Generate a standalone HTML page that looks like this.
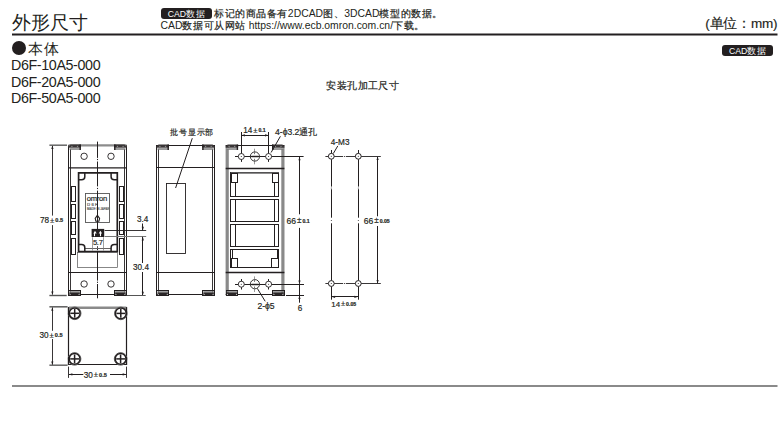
<!DOCTYPE html>
<html><head><meta charset="utf-8">
<style>
html,body{margin:0;padding:0;background:#fff;width:784px;height:422px;overflow:hidden;position:relative}
.t{position:absolute;font-family:"Liberation Sans",sans-serif;color:#231f20;white-space:nowrap;line-height:1}
.c{letter-spacing:0.55px;-webkit-text-stroke:0.2px #231f20}
svg{position:absolute;left:0;top:0;font-family:"Liberation Sans",sans-serif}
</style></head><body>
<div class="t" style="left:11.5px;top:13px;font-size:19px">外形尺寸</div>
<div class="t" style="left:161px;top:8.1px;width:51px;height:10.7px;background:#231f20;border-radius:3px"></div>
<div class="t" style="left:167.8px;top:8.7px;font-size:8.7px;color:#fff">CAD<span style="font-size:9.4px;letter-spacing:0.4px">数据</span></div>
<div class="t" style="left:214px;top:9.0px;font-size:10.4px"><span class="c">标记的商品备有</span>2DCAD<span class="c">图、</span>3DCAD<span class="c">模型的数据。</span></div>
<div class="t" style="left:160.5px;top:20.9px;font-size:10.4px">CAD<span class="c">数据可从网站</span> https://www.ecb.omron.com.cn/<span class="c">下载。</span></div>
<div class="t" style="left:705.3px;top:17px;font-size:13.5px;letter-spacing:-0.2px;-webkit-text-stroke:0.15px #231f20">(单位：mm)</div>
<div class="t" style="left:722px;top:45.3px;width:50.8px;height:10.8px;background:#231f20;border-radius:3px"></div>
<div class="t" style="left:729px;top:45.9px;font-size:8.7px;color:#fff">CAD<span style="font-size:9.4px;letter-spacing:0.4px">数据</span></div>
<div class="t" style="left:11.8px;top:41.2px;width:13.8px;height:13.8px;border-radius:50%;background:#231f20"></div>
<div class="t" style="left:27.8px;top:40.8px;font-size:15px;letter-spacing:1.2px">本体</div>
<div class="t" style="left:11px;top:58.2px;font-size:14.3px;letter-spacing:-0.38px">D6F-10A5-000</div>
<div class="t" style="left:11px;top:74.8px;font-size:14.3px;letter-spacing:-0.38px">D6F-20A5-000</div>
<div class="t" style="left:11px;top:91.1px;font-size:14.3px;letter-spacing:-0.38px">D6F-50A5-000</div>
<div class="t" style="left:326.2px;top:81.2px;font-size:10.4px;letter-spacing:0.45px;-webkit-text-stroke:0.2px #231f20">安装孔加工尺寸</div>
<svg width="784" height="422" viewBox="0 0 784 422">
<line x1="12" y1="34.5" x2="777.5" y2="34.5" stroke="#231f20" stroke-width="2"/>
<line x1="12" y1="386" x2="777.5" y2="386" stroke="#8a8a8a" stroke-width="2"/>
<line x1="68.5" y1="145" x2="68.5" y2="295.3" stroke="#231f20" stroke-width="1.0" />
<line x1="70.5" y1="149" x2="70.5" y2="292.3" stroke="#231f20" stroke-width="0.9" />
<line x1="126.5" y1="145" x2="126.5" y2="295.3" stroke="#231f20" stroke-width="1.0" />
<line x1="124.5" y1="149" x2="124.5" y2="292.3" stroke="#231f20" stroke-width="0.9" />
<line x1="68.5" y1="145.3" x2="126.5" y2="145.3" stroke="#8c8c8c" stroke-width="2.2" />
<line x1="68.5" y1="294.5" x2="126.5" y2="294.5" stroke="#231f20" stroke-width="1.2" />
<polygon points="68.50,146.60 70.50,144.60 80.90,144.60 80.90,147.80 68.50,147.80" fill="#3a3637"/>
<circle cx="71.90" cy="146.40" r="0.7" fill="#8a8a8a"/>
<circle cx="77.50" cy="146.40" r="0.7" fill="#8a8a8a"/>
<rect x="69.50" y="147.90" width="11.20" height="1.3" fill="#a0a0a0"/>
<rect x="69.50" y="149.20" width="11.40" height="0.7" fill="#777"/>
<line x1="80.20" y1="144.60" x2="80.20" y2="149.90" stroke="#231f20" stroke-width="1.4"/>
<polygon points="126.50,146.60 124.50,144.60 114.10,144.60 114.10,147.80 126.50,147.80" fill="#3a3637"/>
<circle cx="123.10" cy="146.40" r="0.7" fill="#8a8a8a"/>
<circle cx="117.50" cy="146.40" r="0.7" fill="#8a8a8a"/>
<rect x="114.30" y="147.90" width="11.20" height="1.3" fill="#a0a0a0"/>
<rect x="114.10" y="149.20" width="11.40" height="0.7" fill="#777"/>
<line x1="114.80" y1="144.60" x2="114.80" y2="149.90" stroke="#231f20" stroke-width="1.4"/>
<rect x="68.5" y="290.5" width="12.0" height="5.0" stroke="#231f20" stroke-width="1.0" fill="none" rx="0"/>
<rect x="69.3" y="291.2" width="10.6" height="1.2" fill="#888"/>
<rect x="69.3" y="292.40000000000003" width="10.6" height="2.8000000000000003" fill="#2a2627"/>
<circle cx="70.1" cy="294.3" r="0.6" stroke="#231f20" stroke-width="0" fill="#ddd"/>
<circle cx="79.1" cy="294.3" r="0.6" stroke="#231f20" stroke-width="0" fill="#ddd"/>
<rect x="114.5" y="290.5" width="12.0" height="5.0" stroke="#231f20" stroke-width="1.0" fill="none" rx="0"/>
<rect x="115.1" y="291.2" width="10.6" height="1.2" fill="#888"/>
<rect x="115.1" y="292.40000000000003" width="10.6" height="2.8000000000000003" fill="#2a2627"/>
<circle cx="115.89999999999999" cy="294.3" r="0.6" stroke="#231f20" stroke-width="0" fill="#ddd"/>
<circle cx="124.89999999999999" cy="294.3" r="0.6" stroke="#231f20" stroke-width="0" fill="#ddd"/>
<circle cx="84.1" cy="156.3" r="3.2" stroke="#231f20" stroke-width="0.9" fill="none"/>
<circle cx="111" cy="156.3" r="3.2" stroke="#231f20" stroke-width="0.9" fill="none"/>
<circle cx="84.1" cy="284" r="3.2" stroke="#231f20" stroke-width="0.9" fill="none"/>
<circle cx="111" cy="284" r="3.2" stroke="#231f20" stroke-width="0.9" fill="none"/>
<line x1="68.5" y1="167.9" x2="126.5" y2="167.9" stroke="#231f20" stroke-width="1.4" />
<line x1="68.5" y1="272.5" x2="126.5" y2="272.5" stroke="#231f20" stroke-width="1.1" />
<path d="M78.6,172.8 H117.3 V251.6 H78.6 Z" stroke="#231f20" stroke-width="1.7" fill="none"/>
<path d="M78.6,179.8 H81.6 Q84.8,179.8 84.8,176.8 V172.8" stroke="#231f20" stroke-width="1.5" fill="none"/>
<path d="M117.3,179.8 H114.3 Q111.1,179.8 111.1,176.8 V172.8" stroke="#231f20" stroke-width="1.5" fill="none"/>
<path d="M78.6,244.6 H81.6 Q84.8,244.6 84.8,247.6 V251.6" stroke="#231f20" stroke-width="1.5" fill="none"/>
<path d="M117.3,244.6 H114.3 Q111.1,244.6 111.1,247.6 V251.6" stroke="#231f20" stroke-width="1.5" fill="none"/>
<line x1="84.8" y1="248.5" x2="111.1" y2="248.5" stroke="#231f20" stroke-width="0.7" />
<rect x="77.5" y="252.5" width="40.0" height="15.0" stroke="#555" stroke-width="0.7" fill="none" rx="0"/>
<rect x="71.5" y="186.5" width="4.0" height="15.0" stroke="#231f20" stroke-width="1.0" fill="none" rx="0"/>
<rect x="71.5" y="204.5" width="4.0" height="14.0" stroke="#231f20" stroke-width="1.0" fill="none" rx="0"/>
<rect x="71.5" y="221.5" width="4.0" height="13.0" stroke="#231f20" stroke-width="1.0" fill="none" rx="0"/>
<rect x="71.5" y="238.5" width="4.0" height="16.0" stroke="#231f20" stroke-width="1.0" fill="none" rx="0"/>
<rect x="119.5" y="186.5" width="4.0" height="15.0" stroke="#231f20" stroke-width="1.0" fill="none" rx="0"/>
<rect x="119.5" y="204.5" width="4.0" height="14.0" stroke="#231f20" stroke-width="1.0" fill="none" rx="0"/>
<rect x="119.5" y="221.5" width="4.0" height="13.0" stroke="#231f20" stroke-width="1.0" fill="none" rx="0"/>
<rect x="119.5" y="238.5" width="4.0" height="16.0" stroke="#231f20" stroke-width="1.0" fill="none" rx="0"/>
<rect x="85.5" y="193.5" width="24.0" height="29.0" stroke="#555" stroke-width="0.9" fill="none" rx="0"/>
<text x="86.8" y="201.2" font-size="7.6" text-anchor="start" fill="#231f20" stroke="#231f20" stroke-width="0.18" letter-spacing="-0.25">omron</text>
<text x="87.0" y="205.8" font-size="4.4" text-anchor="start" fill="#555" stroke="#555" stroke-width="0.18" >D 6 F</text>
<text x="87.0" y="209.5" font-size="3.0" text-anchor="start" fill="#666" stroke="#666" stroke-width="0.18" >MADE IN JAPAN</text>
<path d="M97.4,215.3 L99.6,218.3 L98.9,221.3 L95.9,221.3 L95.2,218.3 Z" stroke="#231f20" stroke-width="1.1" fill="#fff"/>
<line x1="97.5" y1="217.5" x2="97.5" y2="221.3" stroke="#231f20" stroke-width="1.0" />
<rect x="91.6" y="228.9" width="12.6" height="8.1" stroke="#231f20" stroke-width="0" fill="#231f20" rx="0"/>
<path d="M93.3,233.6 L95.0,230.8 L96.7,233.6 Z" stroke="none" stroke-width="0" fill="#fff"/>
<path d="M98.7,233.6 L100.4,230.8 L102.1,233.6 Z" stroke="none" stroke-width="0" fill="#fff"/>
<line x1="94.5" y1="233" x2="94.5" y2="236.2" stroke="#fff" stroke-width="1.1" />
<line x1="100.5" y1="233" x2="100.5" y2="236.2" stroke="#fff" stroke-width="1.1" />
<line x1="92.5" y1="237.2" x2="92.5" y2="250.5" stroke="#777" stroke-width="0.7" />
<line x1="103.5" y1="237.2" x2="103.5" y2="250.5" stroke="#777" stroke-width="0.7" />
<text x="93.0" y="244.8" font-size="7.6" text-anchor="start" fill="#231f20" stroke="#231f20" stroke-width="0.18" letter-spacing="-0.35">5.7</text>
<line x1="104.6" y1="230.5" x2="146.2" y2="230.5" stroke="#231f20" stroke-width="0.9" />
<line x1="104.6" y1="236.5" x2="146.2" y2="236.5" stroke="#777" stroke-width="1.0" />
<line x1="97.5" y1="141.6" x2="97.5" y2="157.9" stroke="#231f20" stroke-width="1.0" />
<line x1="97.5" y1="161.5" x2="97.5" y2="186.4" stroke="#231f20" stroke-width="1.0" />
<line x1="97.5" y1="190.6" x2="97.5" y2="229.2" stroke="#231f20" stroke-width="1.0" />
<line x1="97.5" y1="246.3" x2="97.5" y2="247.8" stroke="#231f20" stroke-width="1.0" />
<line x1="97.5" y1="251.5" x2="97.5" y2="280.6" stroke="#231f20" stroke-width="1.0" />
<line x1="97.5" y1="284.0" x2="97.5" y2="298.3" stroke="#231f20" stroke-width="1.0" />
<line x1="97.5" y1="158.9" x2="97.5" y2="160.1" stroke="#231f20" stroke-width="1.0" />
<line x1="97.5" y1="187.9" x2="97.5" y2="189.1" stroke="#231f20" stroke-width="1.0" />
<line x1="97.5" y1="249.0" x2="97.5" y2="250.2" stroke="#231f20" stroke-width="1.0" />
<line x1="97.5" y1="281.7" x2="97.5" y2="282.90000000000003" stroke="#231f20" stroke-width="1.0" />
<line x1="49.4" y1="145.2" x2="67" y2="145.2" stroke="#666" stroke-width="1.5" />
<line x1="49.4" y1="295.5" x2="66.7" y2="295.5" stroke="#555" stroke-width="1.4" />
<line x1="52.5" y1="146" x2="52.5" y2="215.6" stroke="#231f20" stroke-width="0.9" />
<line x1="52.5" y1="225.1" x2="52.5" y2="294.5" stroke="#231f20" stroke-width="0.9" />
<polygon points="52.4,145.3 51.3,148.9 53.5,148.9" fill="#231f20"/>
<polygon points="52.4,295 51.3,291.4 53.5,291.4" fill="#231f20"/>
<text x="40.0" y="222.9" font-size="8.2" fill="#231f20" stroke="#231f20" stroke-width="0.18">78<tspan font-size="7.789999999999999" dx="0.9" dy="-0.4">±</tspan><tspan font-size="5.6" dx="0.9" letter-spacing="0.1" dy="-0.5" font-weight="bold">0.5</tspan></text>
<line x1="142.5" y1="223.5" x2="142.5" y2="230.4" stroke="#231f20" stroke-width="1.0" />
<polygon points="142.8,230.4 141.70000000000002,226.8 143.9,226.8" fill="#231f20"/>
<line x1="142.5" y1="236.8" x2="142.5" y2="263" stroke="#231f20" stroke-width="1.0" />
<line x1="142.5" y1="272" x2="142.5" y2="295.3" stroke="#231f20" stroke-width="1.0" />
<polygon points="142.8,236.8 141.70000000000002,240.4 143.9,240.4" fill="#231f20"/>
<polygon points="142.8,295.3 141.70000000000002,291.7 143.9,291.7" fill="#231f20"/>
<line x1="126.6" y1="295.5" x2="145.7" y2="295.5" stroke="#555" stroke-width="1.0" />
<text x="137.0" y="222.2" font-size="8.2" text-anchor="start" fill="#231f20" stroke="#231f20" stroke-width="0.18" >3.4</text>
<text x="133.0" y="270.1" font-size="8.2" text-anchor="start" fill="#231f20" stroke="#231f20" stroke-width="0.18" >30.4</text>
<line x1="156.5" y1="145" x2="156.5" y2="295.3" stroke="#231f20" stroke-width="1.0" />
<line x1="158.5" y1="149" x2="158.5" y2="292.3" stroke="#231f20" stroke-width="0.9" />
<line x1="214.5" y1="145" x2="214.5" y2="295.3" stroke="#231f20" stroke-width="1.0" />
<line x1="212.5" y1="149" x2="212.5" y2="292.3" stroke="#231f20" stroke-width="0.9" />
<line x1="156.5" y1="145.5" x2="214.6" y2="145.5" stroke="#231f20" stroke-width="1.0" />
<line x1="156.5" y1="294.5" x2="214.6" y2="294.5" stroke="#231f20" stroke-width="1.2" />
<polygon points="156.50,146.60 158.50,144.60 168.90,144.60 168.90,147.80 156.50,147.80" fill="#3a3637"/>
<circle cx="159.90" cy="146.40" r="0.7" fill="#8a8a8a"/>
<circle cx="165.50" cy="146.40" r="0.7" fill="#8a8a8a"/>
<rect x="157.50" y="147.90" width="11.20" height="1.3" fill="#a0a0a0"/>
<rect x="157.50" y="149.20" width="11.40" height="0.7" fill="#777"/>
<line x1="168.20" y1="144.60" x2="168.20" y2="149.90" stroke="#231f20" stroke-width="1.4"/>
<polygon points="214.60,146.60 212.60,144.60 202.20,144.60 202.20,147.80 214.60,147.80" fill="#3a3637"/>
<circle cx="211.20" cy="146.40" r="0.7" fill="#8a8a8a"/>
<circle cx="205.60" cy="146.40" r="0.7" fill="#8a8a8a"/>
<rect x="202.40" y="147.90" width="11.20" height="1.3" fill="#a0a0a0"/>
<rect x="202.20" y="149.20" width="11.40" height="0.7" fill="#777"/>
<line x1="202.90" y1="144.60" x2="202.90" y2="149.90" stroke="#231f20" stroke-width="1.4"/>
<rect x="156.5" y="290.5" width="12.0" height="5.0" stroke="#231f20" stroke-width="1.0" fill="none" rx="0"/>
<rect x="157.5" y="291.2" width="10.6" height="1.2" fill="#888"/>
<rect x="157.5" y="292.40000000000003" width="10.6" height="2.8000000000000003" fill="#2a2627"/>
<circle cx="158.3" cy="294.3" r="0.6" stroke="#231f20" stroke-width="0" fill="#ddd"/>
<circle cx="167.29999999999998" cy="294.3" r="0.6" stroke="#231f20" stroke-width="0" fill="#ddd"/>
<rect x="202.5" y="290.5" width="12.0" height="5.0" stroke="#231f20" stroke-width="1.0" fill="none" rx="0"/>
<rect x="203.29999999999998" y="291.2" width="10.6" height="1.2" fill="#888"/>
<rect x="203.29999999999998" y="292.40000000000003" width="10.6" height="2.8000000000000003" fill="#2a2627"/>
<circle cx="204.1" cy="294.3" r="0.6" stroke="#231f20" stroke-width="0" fill="#ddd"/>
<circle cx="213.09999999999997" cy="294.3" r="0.6" stroke="#231f20" stroke-width="0" fill="#ddd"/>
<line x1="156.5" y1="167.5" x2="214.6" y2="167.5" stroke="#231f20" stroke-width="1.1" />
<line x1="156.5" y1="272.5" x2="214.6" y2="272.5" stroke="#231f20" stroke-width="1.1" />
<rect x="166.5" y="183.5" width="19.0" height="70.0" stroke="#231f20" stroke-width="0.9" fill="none" rx="0"/>
<line x1="192.3" y1="138.2" x2="175.6" y2="188.0" stroke="#231f20" stroke-width="1.0" />
<text x="170.3" y="135.1" font-size="8.4" text-anchor="start" fill="#231f20" stroke="#231f20" stroke-width="0.18" letter-spacing="0.8" font-weight="500">批号显示部</text>
<line x1="227.2" y1="145" x2="227.2" y2="295.3" stroke="#8a8a8a" stroke-width="3.2" />
<line x1="282.9" y1="145" x2="282.9" y2="295.3" stroke="#8a8a8a" stroke-width="3.2" />
<line x1="225.7" y1="145.5" x2="284.4" y2="145.5" stroke="#231f20" stroke-width="1.0" />
<line x1="225.7" y1="294.5" x2="284.4" y2="294.5" stroke="#231f20" stroke-width="1.2" />
<polygon points="225.70,146.60 227.70,144.60 238.10,144.60 238.10,147.80 225.70,147.80" fill="#3a3637"/>
<circle cx="229.10" cy="146.40" r="0.7" fill="#8a8a8a"/>
<circle cx="234.70" cy="146.40" r="0.7" fill="#8a8a8a"/>
<rect x="226.70" y="147.90" width="11.20" height="1.3" fill="#a0a0a0"/>
<rect x="226.70" y="149.20" width="11.40" height="0.7" fill="#777"/>
<line x1="237.40" y1="144.60" x2="237.40" y2="149.90" stroke="#231f20" stroke-width="1.4"/>
<polygon points="284.40,146.60 282.40,144.60 272.00,144.60 272.00,147.80 284.40,147.80" fill="#3a3637"/>
<circle cx="281.00" cy="146.40" r="0.7" fill="#8a8a8a"/>
<circle cx="275.40" cy="146.40" r="0.7" fill="#8a8a8a"/>
<rect x="272.20" y="147.90" width="11.20" height="1.3" fill="#a0a0a0"/>
<rect x="272.00" y="149.20" width="11.40" height="0.7" fill="#777"/>
<line x1="272.70" y1="144.60" x2="272.70" y2="149.90" stroke="#231f20" stroke-width="1.4"/>
<rect x="226.5" y="290.5" width="11.0" height="5.0" stroke="#231f20" stroke-width="1.0" fill="none" rx="0"/>
<rect x="226.7" y="291.2" width="10.6" height="1.2" fill="#888"/>
<rect x="226.7" y="292.40000000000003" width="10.6" height="2.8000000000000003" fill="#2a2627"/>
<circle cx="227.5" cy="294.3" r="0.6" stroke="#231f20" stroke-width="0" fill="#ddd"/>
<circle cx="236.49999999999997" cy="294.3" r="0.6" stroke="#231f20" stroke-width="0" fill="#ddd"/>
<rect x="272.5" y="290.5" width="12.0" height="5.0" stroke="#231f20" stroke-width="1.0" fill="none" rx="0"/>
<rect x="273.09999999999997" y="291.2" width="10.6" height="1.2" fill="#888"/>
<rect x="273.09999999999997" y="292.40000000000003" width="10.6" height="2.8000000000000003" fill="#2a2627"/>
<circle cx="273.9" cy="294.3" r="0.6" stroke="#231f20" stroke-width="0" fill="#ddd"/>
<circle cx="282.9" cy="294.3" r="0.6" stroke="#231f20" stroke-width="0" fill="#ddd"/>
<line x1="225.7" y1="168.5" x2="284.4" y2="168.5" stroke="#231f20" stroke-width="1.3" />
<line x1="225.7" y1="272.5" x2="284.4" y2="272.5" stroke="#231f20" stroke-width="1.3" />
<line x1="235" y1="156.5" x2="303.6" y2="156.5" stroke="#231f20" stroke-width="1.0" stroke-dasharray="60 0"/>
<line x1="235" y1="284.5" x2="304" y2="284.5" stroke="#231f20" stroke-width="1.0" stroke-dasharray="60 0"/>
<line x1="241.5" y1="132" x2="241.5" y2="161.9" stroke="#231f20" stroke-width="1.0" />
<line x1="268.5" y1="132" x2="268.5" y2="161.9" stroke="#231f20" stroke-width="1.0" />
<line x1="241.5" y1="279" x2="241.5" y2="289.5" stroke="#231f20" stroke-width="1.0" />
<line x1="268.5" y1="279" x2="268.5" y2="289.5" stroke="#231f20" stroke-width="1.0" />
<circle cx="241.3" cy="156.5" r="3.0" stroke="#231f20" stroke-width="0.9" fill="#fff"/>
<circle cx="241.3" cy="156.5" r="0.55" stroke="#231f20" stroke-width="0" fill="#231f20"/>
<circle cx="268.6" cy="156.5" r="3.0" stroke="#231f20" stroke-width="0.9" fill="#fff"/>
<circle cx="268.6" cy="156.5" r="0.55" stroke="#231f20" stroke-width="0" fill="#231f20"/>
<line x1="254.5" y1="148.7" x2="254.5" y2="164.3" stroke="#999" stroke-width="1.0" />
<circle cx="254.9" cy="156.5" r="4.6" stroke="#231f20" stroke-width="0.9" fill="#fff"/>
<line x1="250.3" y1="156.5" x2="259.5" y2="156.5" stroke="#231f20" stroke-width="1.0" />
<line x1="251.5" y1="155.5" x2="258.3" y2="155.5" stroke="#999" stroke-width="0.5" />
<line x1="251.5" y1="157.5" x2="258.3" y2="157.5" stroke="#999" stroke-width="0.5" />
<line x1="254.5" y1="151.9" x2="254.5" y2="154.2" stroke="#777" stroke-width="1.0" />
<line x1="254.5" y1="158.8" x2="254.5" y2="161.1" stroke="#777" stroke-width="1.0" />
<circle cx="241.3" cy="284.2" r="3.0" stroke="#231f20" stroke-width="0.9" fill="#fff"/>
<circle cx="241.3" cy="284.2" r="0.55" stroke="#231f20" stroke-width="0" fill="#231f20"/>
<circle cx="268.6" cy="284.2" r="3.0" stroke="#231f20" stroke-width="0.9" fill="#fff"/>
<circle cx="268.6" cy="284.2" r="0.55" stroke="#231f20" stroke-width="0" fill="#231f20"/>
<line x1="254.5" y1="276.4" x2="254.5" y2="292.0" stroke="#999" stroke-width="1.0" />
<circle cx="254.9" cy="284.2" r="4.6" stroke="#231f20" stroke-width="0.9" fill="#fff"/>
<line x1="250.3" y1="284.5" x2="259.5" y2="284.5" stroke="#231f20" stroke-width="1.0" />
<line x1="251.5" y1="283.5" x2="258.3" y2="283.5" stroke="#999" stroke-width="0.5" />
<line x1="251.5" y1="285.5" x2="258.3" y2="285.5" stroke="#999" stroke-width="0.5" />
<line x1="254.5" y1="279.59999999999997" x2="254.5" y2="281.9" stroke="#777" stroke-width="1.0" />
<line x1="254.5" y1="286.5" x2="254.5" y2="288.8" stroke="#777" stroke-width="1.0" />
<rect x="230.5" y="172.5" width="48.0" height="24.0" stroke="#231f20" stroke-width="1.0" fill="none" rx="0"/>
<line x1="230.8" y1="173.0" x2="279.0" y2="173.0" stroke="#666" stroke-width="1.6" />
<rect x="231.5" y="173.5" width="6.0" height="9.0" stroke="#231f20" stroke-width="1.0" fill="none" rx="0"/>
<rect x="272.5" y="173.5" width="6.0" height="9.0" stroke="#231f20" stroke-width="1.0" fill="none" rx="0"/>
<line x1="235.5" y1="182.4" x2="235.5" y2="196.2" stroke="#231f20" stroke-width="1.0" />
<line x1="274.5" y1="182.4" x2="274.5" y2="196.2" stroke="#231f20" stroke-width="1.0" />
<rect x="230.5" y="199.5" width="48.0" height="22.0" stroke="#231f20" stroke-width="1.0" fill="none" rx="0"/>
<line x1="235.5" y1="199.5" x2="235.5" y2="221.3" stroke="#231f20" stroke-width="1.0" />
<line x1="274.5" y1="199.5" x2="274.5" y2="221.3" stroke="#231f20" stroke-width="1.0" />
<rect x="230.5" y="224.5" width="48.0" height="22.0" stroke="#231f20" stroke-width="1.0" fill="none" rx="0"/>
<line x1="235.5" y1="224.5" x2="235.5" y2="246.3" stroke="#231f20" stroke-width="1.0" />
<line x1="274.5" y1="224.5" x2="274.5" y2="246.3" stroke="#231f20" stroke-width="1.0" />
<rect x="230.5" y="249.5" width="48.0" height="18.0" stroke="#231f20" stroke-width="1.0" fill="none" rx="0"/>
<rect x="231.5" y="258.5" width="6.0" height="9.0" stroke="#231f20" stroke-width="1.0" fill="none" rx="0"/>
<rect x="271.5" y="258.5" width="7.0" height="9.0" stroke="#231f20" stroke-width="1.0" fill="none" rx="0"/>
<line x1="232.5" y1="249.4" x2="232.5" y2="258.0" stroke="#231f20" stroke-width="1.0" />
<line x1="277.5" y1="249.4" x2="277.5" y2="258.0" stroke="#231f20" stroke-width="1.0" />
<line x1="241.3" y1="135.5" x2="268.6" y2="135.5" stroke="#231f20" stroke-width="1.0" />
<polygon points="241.3,135.3 244.9,134.20000000000002 244.9,136.4" fill="#231f20"/>
<polygon points="268.6,135.3 265.0,134.20000000000002 265.0,136.4" fill="#231f20"/>
<text x="243.2" y="132.9" font-size="8.2" fill="#231f20" stroke="#231f20" stroke-width="0.18">14<tspan font-size="7.789999999999999" dx="0.9" dy="-0.4">±</tspan><tspan font-size="5.2" dx="0.9" letter-spacing="0" dy="-0.5" font-weight="bold">0.1</tspan></text>
<text x="275.0" y="135.2" font-size="8.6" text-anchor="start" fill="#231f20" stroke="#231f20" stroke-width="0.18" >4-ϕ3.2通孔</text>
<line x1="280.4" y1="136.3" x2="271.1" y2="152.5" stroke="#231f20" stroke-width="1.0" />
<line x1="299.5" y1="157" x2="299.5" y2="214.3" stroke="#231f20" stroke-width="1.0" />
<line x1="299.5" y1="227.9" x2="299.5" y2="283.8" stroke="#231f20" stroke-width="1.0" />
<polygon points="299.5,156.7 298.4,160.29999999999998 300.6,160.29999999999998" fill="#231f20"/>
<polygon points="299.5,284.2 298.4,280.59999999999997 300.6,280.59999999999997" fill="#231f20"/>
<text x="286.6" y="223.8" font-size="8.6" fill="#231f20" stroke="#231f20" stroke-width="0.18">66<tspan font-size="8.17" dx="0.9" dy="-0.4">±</tspan><tspan font-size="5.2" dx="0.9" letter-spacing="0" dy="-0.5" font-weight="bold">0.1</tspan></text>
<line x1="286" y1="295.5" x2="304" y2="295.5" stroke="#231f20" stroke-width="1.0" />
<line x1="299.5" y1="284.2" x2="299.5" y2="302.7" stroke="#231f20" stroke-width="1.0" />
<polygon points="299.5,295.5 298.4,299.1 300.6,299.1" fill="#231f20"/>
<text x="297.8" y="311.3" font-size="8.2" text-anchor="start" fill="#231f20" stroke="#231f20" stroke-width="0.18" >6</text>
<text x="257.4" y="309.2" font-size="8.6" text-anchor="start" fill="#231f20" stroke="#231f20" stroke-width="0.18" >2-ϕ5</text>
<line x1="257.3" y1="288.4" x2="265.2" y2="301.3" stroke="#231f20" stroke-width="1.0" />
<line x1="325.4" y1="156.5" x2="380.8" y2="156.5" stroke="#231f20" stroke-width="0.9" stroke-dasharray="17.6 0.9 1.0 0.9 100"/>
<circle cx="331.3" cy="156.3" r="2.9" stroke="#231f20" stroke-width="1.0" fill="#fff"/>
<circle cx="331.3" cy="156.3" r="0.55" stroke="#231f20" stroke-width="0" fill="#231f20"/>
<circle cx="358.3" cy="156.3" r="2.9" stroke="#231f20" stroke-width="1.0" fill="#fff"/>
<circle cx="358.3" cy="156.3" r="0.55" stroke="#231f20" stroke-width="0" fill="#231f20"/>
<line x1="325.4" y1="283.5" x2="380.8" y2="283.5" stroke="#231f20" stroke-width="0.9" stroke-dasharray="17.6 0.9 1.0 0.9 100"/>
<circle cx="331.3" cy="283.5" r="2.9" stroke="#231f20" stroke-width="1.0" fill="#fff"/>
<circle cx="331.3" cy="283.5" r="0.55" stroke="#231f20" stroke-width="0" fill="#231f20"/>
<circle cx="358.3" cy="283.5" r="2.9" stroke="#231f20" stroke-width="1.0" fill="#fff"/>
<circle cx="358.3" cy="283.5" r="0.55" stroke="#231f20" stroke-width="0" fill="#231f20"/>
<line x1="331.5" y1="150" x2="331.5" y2="153.3" stroke="#231f20" stroke-width="1.0" />
<line x1="331.5" y1="159.3" x2="331.5" y2="186.6" stroke="#231f20" stroke-width="1.0" />
<circle cx="331.3" cy="187.9" r="0.5" stroke="#231f20" stroke-width="0" fill="#231f20"/>
<line x1="331.5" y1="189.2" x2="331.5" y2="217.7" stroke="#231f20" stroke-width="1.0" />
<circle cx="331.3" cy="220.5" r="0.5" stroke="#231f20" stroke-width="0" fill="#231f20"/>
<line x1="331.5" y1="223.3" x2="331.5" y2="280.5" stroke="#231f20" stroke-width="1.0" />
<line x1="331.5" y1="286.5" x2="331.5" y2="299.7" stroke="#231f20" stroke-width="1.0" />
<line x1="358.5" y1="150" x2="358.5" y2="153.3" stroke="#231f20" stroke-width="1.0" />
<line x1="358.5" y1="159.3" x2="358.5" y2="186.6" stroke="#231f20" stroke-width="1.0" />
<circle cx="358.3" cy="187.9" r="0.5" stroke="#231f20" stroke-width="0" fill="#231f20"/>
<line x1="358.5" y1="189.2" x2="358.5" y2="217.7" stroke="#231f20" stroke-width="1.0" />
<circle cx="358.3" cy="220.5" r="0.5" stroke="#231f20" stroke-width="0" fill="#231f20"/>
<line x1="358.5" y1="223.3" x2="358.5" y2="280.5" stroke="#231f20" stroke-width="1.0" />
<line x1="358.5" y1="286.5" x2="358.5" y2="299.7" stroke="#231f20" stroke-width="1.0" />
<line x1="377.5" y1="157" x2="377.5" y2="216.3" stroke="#231f20" stroke-width="1.0" />
<line x1="377.5" y1="226" x2="377.5" y2="283.2" stroke="#231f20" stroke-width="1.0" />
<polygon points="377.6,156.5 376.5,160.1 378.70000000000005,160.1" fill="#231f20"/>
<polygon points="377.6,283.5 376.5,279.9 378.70000000000005,279.9" fill="#231f20"/>
<text x="363.8" y="223.6" font-size="8.6" fill="#231f20" stroke="#231f20" stroke-width="0.18">66<tspan font-size="8.17" dx="0.9" dy="-0.4">±</tspan><tspan font-size="5.2" dx="0.9" letter-spacing="0" dy="-0.5" font-weight="bold">0.05</tspan></text>
<line x1="331.3" y1="296.5" x2="358.2" y2="296.5" stroke="#231f20" stroke-width="1.0" />
<polygon points="331.5,296.8 335.1,295.7 335.1,297.90000000000003" fill="#231f20"/>
<polygon points="358.0,296.8 354.4,295.7 354.4,297.90000000000003" fill="#231f20"/>
<text x="331.2" y="306.8" font-size="8.0" fill="#231f20" stroke="#231f20" stroke-width="0.18">14<tspan font-size="7.6" dx="0.9" dy="-0.4">±</tspan><tspan font-size="5.2" dx="0.9" letter-spacing="0" dy="-0.5" font-weight="bold">0.05</tspan></text>
<text x="330.8" y="145.4" font-size="8.2" text-anchor="start" fill="#231f20" stroke="#231f20" stroke-width="0.18" >4-M3</text>
<line x1="337.8" y1="145.9" x2="333.3" y2="153.5" stroke="#231f20" stroke-width="1.0" />
<line x1="68.5" y1="307.2" x2="68.5" y2="365" stroke="#231f20" stroke-width="1.2" />
<line x1="126.5" y1="307.2" x2="126.5" y2="365" stroke="#231f20" stroke-width="1.2" />
<line x1="68.8" y1="307.8" x2="126.4" y2="307.8" stroke="#8a8a8a" stroke-width="2.6" />
<line x1="68.8" y1="364.5" x2="126.4" y2="364.5" stroke="#231f20" stroke-width="1.2" />
<circle cx="74.7" cy="313.3" r="6.3" stroke="#555" stroke-width="0.9" fill="#fff"/>
<circle cx="74.7" cy="313.3" r="5.4" stroke="#231f20" stroke-width="1.5" fill="#fff"/>
<line x1="70.3" y1="313.3" x2="79.10000000000001" y2="313.3" stroke="#231f20" stroke-width="1.5" />
<line x1="74.7" y1="308.90000000000003" x2="74.7" y2="317.7" stroke="#231f20" stroke-width="1.5" />
<circle cx="120.8" cy="313.4" r="6.3" stroke="#555" stroke-width="0.9" fill="#fff"/>
<circle cx="120.8" cy="313.4" r="5.4" stroke="#231f20" stroke-width="1.5" fill="#fff"/>
<line x1="116.39999999999999" y1="313.4" x2="125.2" y2="313.4" stroke="#231f20" stroke-width="1.5" />
<line x1="120.8" y1="309.0" x2="120.8" y2="317.79999999999995" stroke="#231f20" stroke-width="1.5" />
<circle cx="74.6" cy="358.9" r="6.3" stroke="#555" stroke-width="0.9" fill="#fff"/>
<circle cx="74.6" cy="358.9" r="5.4" stroke="#231f20" stroke-width="1.5" fill="#fff"/>
<line x1="70.19999999999999" y1="358.9" x2="79.0" y2="358.9" stroke="#231f20" stroke-width="1.5" />
<line x1="74.6" y1="354.5" x2="74.6" y2="363.29999999999995" stroke="#231f20" stroke-width="1.5" />
<circle cx="120.6" cy="358.9" r="6.3" stroke="#555" stroke-width="0.9" fill="#fff"/>
<circle cx="120.6" cy="358.9" r="5.4" stroke="#231f20" stroke-width="1.5" fill="#fff"/>
<line x1="116.19999999999999" y1="358.9" x2="125.0" y2="358.9" stroke="#231f20" stroke-width="1.5" />
<line x1="120.6" y1="354.5" x2="120.6" y2="363.29999999999995" stroke="#231f20" stroke-width="1.5" />
<line x1="68.5" y1="307.2" x2="68.5" y2="315.2" stroke="#231f20" stroke-width="1.2" />
<line x1="126.5" y1="307.2" x2="126.5" y2="315.2" stroke="#231f20" stroke-width="1.2" />
<line x1="68.5" y1="357" x2="68.5" y2="365" stroke="#231f20" stroke-width="1.2" />
<line x1="126.5" y1="357" x2="126.5" y2="365" stroke="#231f20" stroke-width="1.2" />
<line x1="49.4" y1="306.8" x2="67.6" y2="306.8" stroke="#666" stroke-width="1.6" />
<line x1="49.4" y1="365.2" x2="67.6" y2="365.2" stroke="#666" stroke-width="1.5" />
<line x1="52.5" y1="307.5" x2="52.5" y2="330.8" stroke="#231f20" stroke-width="0.9" />
<line x1="52.5" y1="339" x2="52.5" y2="364.6" stroke="#231f20" stroke-width="0.9" />
<polygon points="52.3,307.2 51.199999999999996,310.8 53.4,310.8" fill="#231f20"/>
<polygon points="52.3,365 51.199999999999996,361.4 53.4,361.4" fill="#231f20"/>
<text x="39.5" y="337.9" font-size="8.2" fill="#231f20" stroke="#231f20" stroke-width="0.18">30<tspan font-size="7.789999999999999" dx="0.9" dy="-0.4">±</tspan><tspan font-size="5.6" dx="0.9" letter-spacing="0.1" dy="-0.5" font-weight="bold">0.5</tspan></text>
<line x1="68.5" y1="366.6" x2="68.5" y2="377.9" stroke="#231f20" stroke-width="0.9" />
<line x1="126.5" y1="366.6" x2="126.5" y2="377.9" stroke="#231f20" stroke-width="0.9" />
<line x1="69" y1="374.5" x2="83.3" y2="374.5" stroke="#231f20" stroke-width="1.0" />
<line x1="110" y1="374.5" x2="126.2" y2="374.5" stroke="#231f20" stroke-width="1.0" />
<polygon points="68.8,374.4 72.39999999999999,373.29999999999995 72.39999999999999,375.5" fill="#231f20"/>
<polygon points="126.3,374.4 122.7,373.29999999999995 122.7,375.5" fill="#231f20"/>
<text x="83.8" y="377.5" font-size="8.2" fill="#231f20" stroke="#231f20" stroke-width="0.18">30<tspan font-size="7.789999999999999" dx="0.9" dy="-0.4">±</tspan><tspan font-size="5.6" dx="0.9" letter-spacing="0.1" dy="-0.5" font-weight="bold">0.5</tspan></text>
</svg>
</body></html>
